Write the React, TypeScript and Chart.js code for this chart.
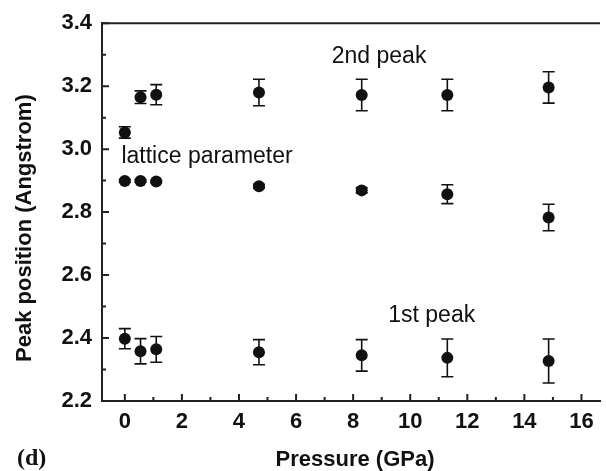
import { useEffect, useRef } from "react";
import { Chart, registerables } from "chart.js";

Chart.register(...registerables);

// ---- data ----
const pressure = [0, 0.55, 1.1, 4.7, 8.3, 11.3, 14.85];

const secondPeak = [3.053, 3.165, 3.173, 3.18, 3.172, 3.172, 3.196];
const secondPeakErr = [0.018, 0.02, 0.032, 0.042, 0.05, 0.05, 0.05];

const latticeParam = [2.899, 2.899, 2.897, 2.882, 2.869, 2.857, 2.783];
const latticeParamErr = [0.004, 0.004, 0.004, 0.006, 0.008, 0.03, 0.042];

const firstPeak = [2.398, 2.358, 2.364, 2.355, 2.345, 2.337, 2.327];
const firstPeakErr = [0.032, 0.04, 0.041, 0.04, 0.05, 0.06, 0.07];

const xTicks = [0, 2, 4, 6, 8, 10, 12, 14, 16];
const xMinorTicks = [1, 3, 5, 7, 9, 11, 13, 15];
const yTicks = [2.2, 2.4, 2.6, 2.8, 3.0, 3.2, 3.4];
const yMinorTicks = [2.3, 2.5, 2.7, 2.9, 3.1, 3.3];

const xTitle = "Pressure (GPa)";
const yTitle = "Peak position (Angstrom)";
const panelLabel = "(d)";
const seriesLabels = [
  { text: "2nd peak", x: 7.25, y: 3.295 },
  { text: "lattice parameter", x: -0.12, y: 2.975 },
  { text: "1st peak", x: 9.23, y: 2.472 },
];

const SANS = '"Liberation Sans", Arial, Helvetica, sans-serif';
const SERIF = '"Liberation Serif", "Times New Roman", serif';
const INK = "#111";

const errorBarPlugin = {
  id: "errorBars",
  beforeDatasetsDraw(chart: any) {
    const ctx = chart.ctx;
    const ys = chart.scales.y;
    chart.data.datasets.forEach((ds: any, di: number) => {
      const meta = chart.getDatasetMeta(di);
      meta.data.forEach((pt: any, i: number) => {
        const v = ds.data[i].y;
        const e = ds.errors[i];
        const top = ys.getPixelForValue(v + e);
        const bot = ys.getPixelForValue(v - e);
        ctx.save();
        ctx.strokeStyle = INK;
        ctx.lineWidth = 1.6;
        ctx.beginPath();
        ctx.moveTo(pt.x, top);
        ctx.lineTo(pt.x, bot);
        ctx.moveTo(pt.x - 6, top);
        ctx.lineTo(pt.x + 6, top);
        ctx.moveTo(pt.x - 6, bot);
        ctx.lineTo(pt.x + 6, bot);
        ctx.stroke();
        ctx.restore();
      });
    });
  },
};

const framePlugin = {
  id: "frameTicks",
  afterDraw(chart: any) {
    const ctx = chart.ctx;
    const { left, right, top, bottom } = chart.chartArea;
    const xs = chart.scales.x;
    const ys = chart.scales.y;
    ctx.save();
    ctx.strokeStyle = "#222";
    ctx.lineWidth = 2;
    // top border
    ctx.beginPath();
    ctx.moveTo(left, top);
    ctx.lineTo(right, top);
    ctx.stroke();
    // inside ticks
    ctx.beginPath();
    xTicks.forEach((v) => {
      const px = xs.getPixelForValue(v);
      ctx.moveTo(px, bottom);
      ctx.lineTo(px, bottom - 7);
    });
    xMinorTicks.forEach((v) => {
      const px = xs.getPixelForValue(v);
      ctx.moveTo(px, bottom);
      ctx.lineTo(px, bottom - 4);
    });
    yTicks.forEach((v) => {
      const py = ys.getPixelForValue(v);
      ctx.moveTo(left, py);
      ctx.lineTo(left + 7, py);
    });
    yMinorTicks.forEach((v) => {
      const py = ys.getPixelForValue(v);
      ctx.moveTo(left, py);
      ctx.lineTo(left + 4, py);
    });
    ctx.stroke();

    // texts
    ctx.fillStyle = INK;
    ctx.textBaseline = "middle";
    ctx.font = `23px ${SANS}`;
    ctx.textAlign = "left";
    seriesLabels.forEach((l) => {
      ctx.fillText(l.text, xs.getPixelForValue(l.x), ys.getPixelForValue(l.y));
    });

    ctx.font = `bold 22px ${SANS}`;
    ctx.textAlign = "center";
    ctx.fillText(xTitle, (left + right) / 2 + 4, 460);

    ctx.save();
    ctx.translate(25, (top + bottom) / 2 + 16);
    ctx.rotate(-Math.PI / 2);
    ctx.fillText(yTitle, 0, 0);
    ctx.restore();

    ctx.font = `bold 24px ${SERIF}`;
    ctx.textAlign = "left";
    ctx.fillText(panelLabel, 17, 459);
    ctx.restore();
  },
};

function makeSeries(label: string, ys: number[], errs: number[]) {
  return {
    label,
    data: pressure.map((x, i) => ({ x, y: ys[i] })),
    errors: errs,
    backgroundColor: INK,
    borderColor: INK,
    pointRadius: 6,
    pointHoverRadius: 6,
    borderWidth: 0,
    showLine: false,
  };
}

export default function App() {
  const ref = useRef<HTMLCanvasElement | null>(null);

  useEffect(() => {
    if (!ref.current) return;
    const chart = new Chart(ref.current, {
      type: "scatter",
      data: {
        datasets: [
          makeSeries("2nd peak", secondPeak, secondPeakErr),
          makeSeries("lattice parameter", latticeParam, latticeParamErr),
          makeSeries("1st peak", firstPeak, firstPeakErr),
        ] as any,
      },
      options: {
        responsive: false,
        animation: false,
        layout: { padding: { top: 22, left: 0, right: 0, bottom: 0 } },
        plugins: {
          legend: { display: false },
          tooltip: { enabled: false },
          title: { display: false },
        },
        scales: {
          x: {
            type: "linear",
            min: -0.8,
            max: 16.65,
            afterBuildTicks: (s: any) => {
              s.ticks = xTicks.map((value) => ({ value }));
            },
            afterFit: (s: any) => {
              s.height = 70;
            },
            grid: { display: false, drawTicks: false, tickLength: 0 },
            border: { display: true, color: "#222", width: 2 },
            ticks: {
              padding: 8,
              color: INK,
              font: { family: SANS, size: 22, weight: "bold" },
              callback: (v: any) => String(v),
            },
          },
          y: {
            type: "linear",
            min: 2.2,
            max: 3.4,
            afterBuildTicks: (s: any) => {
              s.ticks = yTicks.map((value) => ({ value }));
            },
            afterFit: (s: any) => {
              s.width = 102;
            },
            grid: { display: false, drawTicks: false, tickLength: 0 },
            border: { display: true, color: "#222", width: 2 },
            ticks: {
              padding: 10,
              color: INK,
              font: { family: SANS, size: 22, weight: "bold" },
              callback: (v: any) => Number(v).toFixed(1),
            },
          },
        },
      } as any,
      plugins: [errorBarPlugin, framePlugin],
    });
    return () => chart.destroy();
  }, []);

  return (
    <div
      style={{
        position: "fixed",
        left: 0,
        top: 0,
        width: 606,
        height: 471,
        background: "#fff",
        overflow: "hidden",
      }}
    >
      <canvas ref={ref} width={606} height={471} style={{ display: "block" }} />
    </div>
  );
}
